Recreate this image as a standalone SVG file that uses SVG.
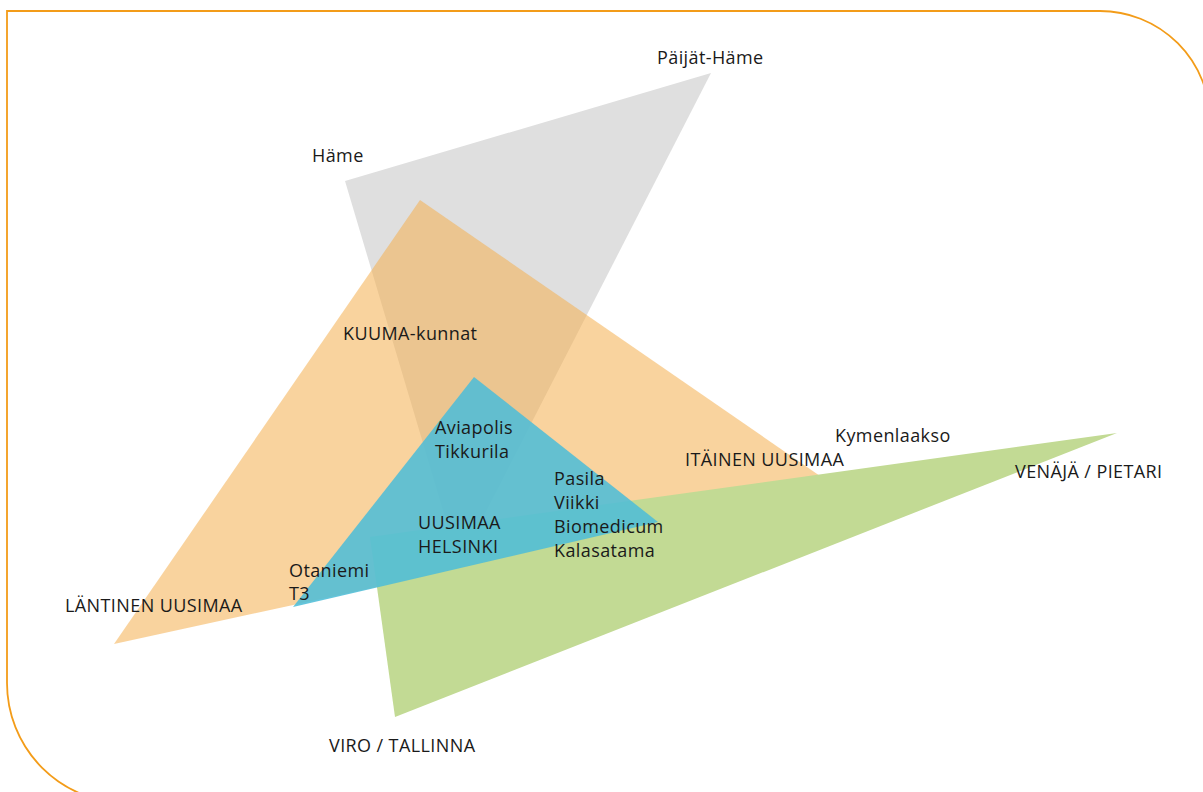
<svg xmlns="http://www.w3.org/2000/svg" width="1203" height="792" viewBox="0 0 1203 792">
<style>
text{font-family:"Open Sans","Noto Sans","DejaVu Sans",sans-serif;font-size:18px;letter-spacing:0.4px;fill:#1a1a1a}
.frame{fill:none;stroke:#f39c19;stroke-width:1.8}
</style>
<rect width="1203" height="792" fill="#ffffff"/>
<path class="frame" d="M7,11 H1100 A110,110 0 0 1 1210,121 V803 H127 A120,120 0 0 1 7,683 Z"/>
<g id="connectors"/>
<g id="hame"><polygon points="345,181 711,73 459,564" fill="#dfdfdf"/></g>
<g id="kuuma"><polygon points="420,200 114,644 836,487" fill="#f4af4f" fill-opacity="0.55"/></g>
<g id="viro-venaja"><polygon points="370,537 1117,433 395,717" fill="#c2da94"/></g>
<g id="uusimaa"><polygon points="474,377 293,607 658,522" fill="#4fbdd7" fill-opacity="0.88"/></g>
<g id="labels">
<text x="657" y="64">Päijät-Häme</text>
<text x="312" y="162">Häme</text>
<text x="343" y="340">KUUMA-kunnat</text>
<text x="435" y="434">Aviapolis</text>
<text x="435" y="458">Tikkurila</text>
<text x="554" y="485">Pasila</text>
<text x="554" y="509">Viikki</text>
<text x="554" y="533">Biomedicum</text>
<text x="554" y="557">Kalasatama</text>
<text x="418" y="529">UUSIMAA</text>
<text x="418" y="553">HELSINKI</text>
<text x="289" y="577">Otaniemi</text>
<text x="289" y="600">T3</text>
<text x="65" y="612">LÄNTINEN UUSIMAA</text>
<text x="685" y="466">ITÄINEN UUSIMAA</text>
<text x="835" y="442">Kymenlaakso</text>
<text x="1015" y="478">VENÄJÄ / PIETARI</text>
<text x="329" y="752">VIRO / TALLINNA</text>
</g>
</svg>
